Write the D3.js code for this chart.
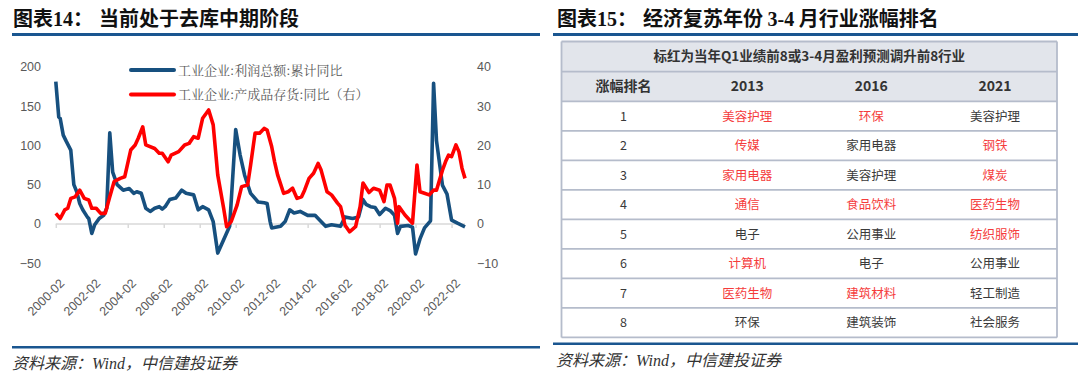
<!DOCTYPE html>
<html><head><meta charset="utf-8">
<script src="https://cdn.jsdelivr.net/npm/d3@7"></script>
<style>
html,body{margin:0;padding:0;background:#fff;}
svg{display:block;}
</style></head>
<body>
<svg id="c" width="1080" height="374"></svg>
<script>
// ---------- data ----------
const profitDates = ["2000-02","2000-04","2000-05","2000-07","2000-09","2000-12","2001-02","2001-04","2001-06","2001-08","2001-11","2001-12","2002-02","2002-04","2002-07","2002-10","2002-12","2003-02","2003-04","2003-07","2003-11","2004-03","2004-06","2004-08","2004-11","2005-02","2005-05","2005-08","2005-11","2006-01","2006-03","2006-06","2006-10","2007-02","2007-05","2007-10","2008-01","2008-04","2008-08","2008-11","2009-02","2009-06","2009-10","2010-02","2010-05","2010-08","2010-12","2011-05","2011-09","2011-11","2012-01","2012-02","2012-08","2012-11","2013-02","2013-05","2013-09","2014-02","2014-07","2014-10","2015-02","2015-06","2015-12","2016-03","2016-08","2016-12","2017-03","2017-05","2017-08","2017-11","2018-02","2018-06","2018-09","2018-12","2019-02","2019-04","2019-09","2019-12","2020-02","2020-05","2020-08","2020-12","2021-02","2021-04","2021-08","2021-11","2022-02","2022-06","2022-11"];
const profitValues = [181,136,134,113,105,94,50,41,26,18,9,7,-12,-1,7,11,20,116,66,50,43,45,39,41,39,20,16,20,22,19,22,31,33,43,39,37,18,22,18,3,-37,-20,-3,120,88,62,39,28,27,26,3,-5,-3,3,18,14,16,11,11,5,-3,-1,-3,9,7,9,31,25,22,21,12,20,17,11,-12,-3,-2,-4,-38,-19,-5,4,179,106,49,38,5,1,-3.6];

const inventoryDates = ["2000-02","2000-05","2000-08","2000-10","2000-12","2001-03","2001-06","2001-09","2001-12","2002-02","2002-05","2002-08","2002-11","2003-02","2003-05","2003-09","2003-12","2004-04","2004-07","2004-09","2004-12","2005-02","2005-08","2005-11","2006-01","2006-05","2006-07","2006-12","2007-04","2007-07","2007-10","2008-01","2008-04","2008-08","2008-11","2009-02","2009-06","2009-08","2009-11","2010-03","2010-06","2010-10","2010-12","2011-03","2011-06","2011-09","2011-11","2012-02","2012-04","2012-06","2012-10","2013-01","2013-04","2013-07","2013-10","2013-12","2014-03","2014-06","2014-09","2014-11","2015-03","2015-06","2015-10","2015-12","2016-03","2016-06","2016-10","2017-01","2017-03","2017-07","2017-10","2018-02","2018-05","2018-07","2018-09","2018-12","2019-02","2019-03","2019-07","2019-12","2020-03","2020-05","2020-08","2020-11","2021-02","2021-04","2021-08","2021-10","2021-12","2022-02","2022-05","2022-07","2022-09","2022-11"];
const inventoryValues = [2.7,1.4,3.6,4.0,6.5,6.9,8.6,6.5,6.1,4.0,4.0,2.7,2.7,6.9,10.8,11.6,12.0,18.8,20.1,21.8,24.7,20.1,19.2,18.0,18.0,15.8,17.5,18.4,20.1,20.5,22.2,21.8,26.9,29.0,25.2,12.5,4.0,-0.7,0.6,4.8,9.5,9.9,15.0,23.1,23.1,24.3,23.9,19.7,15.8,12.5,7.8,8.2,9.1,6.5,6.9,8.6,11.6,12.9,15.4,13.7,8.2,7.4,5.3,4.4,-0.3,-2.0,-0.7,4.4,10.4,8.0,9.1,8.6,5.7,9.9,9.9,6.5,0.2,4.4,2.3,0.2,15.0,8.2,7.8,7.4,8.6,8.6,13.7,15.8,17.5,17.1,20.1,18.4,14.2,11.6];

const xTickLabels = ["2000-02","2002-02","2004-02","2006-02","2008-02","2010-02","2012-02","2014-02","2016-02","2018-02","2020-02","2022-02"];
const leftTicks = [-50,0,50,100,150,200];
const rightTicks = [-10,0,10,20,30,40];
const seriesNames = ["工业企业:利润总额:累计同比","工业企业:产成品存货:同比（右）"];

const tableNote = "标红为当年Q1业绩前8或3-4月盈利预测调升前8行业";
const tableHeader = ["涨幅排名","2013","2016","2021"];
const ranks = ["1","2","3","4","5","6","7","8"];
const ind2013 = ["美容护理","传媒","家用电器","通信","电子","计算机","医药生物","环保"];
const red2013 = [1,1,1,1,0,1,1,0];
const ind2016 = ["环保","家用电器","美容护理","食品饮料","公用事业","电子","建筑材料","建筑装饰"];
const red2016 = [1,0,0,1,0,0,1,0];
const ind2021 = ["美容护理","钢铁","煤炭","医药生物","纺织服饰","公用事业","轻工制造","社会服务"];
const red2021 = [0,1,1,1,1,0,0,0];

// ---------- drawing ----------
const svg = d3.select("#c");
svg.append("rect").attr("width",1080).attr("height",374).attr("fill","#fff");
const parse = d3.timeParse("%Y-%m");
const BLUE = "#17507f", RED = "#ff0000", AXC = "#595959", BAR = "#1a5690";

// titles
const t1 = svg.append("text").attr("x",13).attr("y",26).attr("font-size",20).attr("font-weight","bold").attr("fill","#111")
    .attr("font-family","'Noto Sans CJK SC',sans-serif");
t1.append("tspan").text("图表");
t1.append("tspan").attr("font-family","'Liberation Serif',serif").text("14");
t1.append("tspan").text("：");
t1.append("tspan").attr("dx",6).text("当前处于去库中期阶段");
svg.append("rect").attr("x",12).attr("y",33).attr("width",528).attr("height",3).attr("fill",BAR);
const t2 = svg.append("text").attr("x",557).attr("y",26).attr("font-size",20).attr("font-weight","bold").attr("fill","#111")
    .attr("font-family","'Noto Sans CJK SC',sans-serif");
t2.append("tspan").text("图表");
t2.append("tspan").attr("font-family","'Liberation Serif',serif").text("15");
t2.append("tspan").text("：");
t2.append("tspan").attr("dx",6).text("经济复苏年份 ");
t2.append("tspan").attr("font-family","'Liberation Serif',serif").text("3-4");
t2.append("tspan").text(" 月行业涨幅排名");
svg.append("rect").attr("x",553).attr("y",33).attr("width",525).attr("height",3).attr("fill",BAR);

// footers
svg.append("rect").attr("x",12).attr("y",346).attr("width",528).attr("height",2.5).attr("fill",BAR);
svg.append("rect").attr("x",553).attr("y",342.5).attr("width",525).attr("height",2.5).attr("fill",BAR);
function footer(x,y){
  const f = svg.append("text").attr("x",x).attr("y",y).attr("font-size",16).attr("font-style","italic").attr("fill","#333")
    .attr("font-family","'Noto Sans CJK SC',sans-serif");
  f.append("tspan").text("资料来源：");
  f.append("tspan").attr("font-family","'Liberation Serif',serif").text("Wind");
  f.append("tspan").text("，中信建投证券");
}
footer(12,369);
footer(556,366);

// chart scales
const x = d3.scaleTime().domain([parse("2000-02"), parse("2022-11")]).range([55.8, 465]);
const yL = d3.scaleLinear().domain([-50,200]).range([263.3, 66.7]);
const yR = d3.scaleLinear().domain([-10,40]).range([263.3, 66.7]);

// y axes
const gL = svg.append("g").attr("transform","translate(41,0)")
  .call(d3.axisLeft(yL).tickValues(leftTicks).tickSize(0).tickPadding(0));
const gR = svg.append("g").attr("transform","translate(477,0)")
  .call(d3.axisRight(yR).tickValues(rightTicks).tickSize(0).tickPadding(0));
[gL,gR].forEach(g=>{
  g.select(".domain").remove();
  g.selectAll("text").attr("font-size",12.5).attr("fill",AXC).attr("font-family","'Liberation Sans',Arial,sans-serif");
});

// x axis at zero
const tickDates = xTickLabels.map(parse);
const gX = svg.append("g").attr("transform",`translate(0,${yL(0)})`)
  .call(d3.axisBottom(x).tickValues(tickDates).tickSize(4).tickFormat(""));
gX.select(".domain").attr("d",`M${x.range()[0]},0H${x.range()[1]}`).attr("stroke","#d9d9d9").attr("stroke-width",1.5);
gX.selectAll(".tick line").attr("stroke","#d9d9d9").attr("stroke-width",1.5);

// x labels at bottom
const gXL = svg.append("g").attr("transform",`translate(0,${yL(-50)+12})`)
  .call(d3.axisBottom(x).tickValues(tickDates).tickSize(0).tickFormat((d,i)=>xTickLabels[i]));
gXL.select(".domain").remove();
gXL.selectAll("text").attr("font-size",12.5).attr("fill",AXC).attr("font-family","'Liberation Sans',Arial,sans-serif")
  .attr("text-anchor","end").attr("dy","0.3em").attr("dx","0")
  .attr("transform","translate(4,4) rotate(-45)");

// lines
const profit = profitDates.map((d,i)=>({d:parse(d), v:profitValues[i]}));
const inv = inventoryDates.map((d,i)=>({d:parse(d), v:inventoryValues[i]}));
svg.append("path").datum(profit).attr("fill","none").attr("stroke",BLUE).attr("stroke-width",3.6).attr("stroke-linejoin","round")
  .attr("d", d3.line().x(p=>x(p.d)).y(p=>yL(p.v)));
svg.append("path").datum(inv).attr("fill","none").attr("stroke",RED).attr("stroke-width",3.6).attr("stroke-linejoin","round")
  .attr("d", d3.line().x(p=>x(p.d)).y(p=>yR(p.v)));

// legend
const legColors = [BLUE, RED];
const leg = svg.append("g").selectAll("g").data(seriesNames).join("g")
  .attr("transform",(d,i)=>`translate(131,${70+i*24.5})`);
leg.append("line").attr("x1",0).attr("x2",43).attr("stroke",(d,i)=>legColors[i]).attr("stroke-width",4).attr("stroke-linecap","round");
leg.append("text").attr("x",47).attr("dy","0.36em").attr("font-size",13).attr("fill",AXC)
  .attr("font-family","'Noto Serif CJK SC','Noto Sans CJK SC',serif").text(d=>d);

// ---------- table ----------
const tx0 = 561.5, tx1 = 1057, colW = (tx1-tx0)/4;
const rowsY = [41.5, 71.6, 101.4];
for(let i=1;i<=8;i++) rowsY.push(101.4 + i*29.5);
const T = svg.append("g");
T.append("rect").attr("x",tx0).attr("y",rowsY[0]).attr("width",tx1-tx0).attr("height",rowsY[2]-rowsY[0]).attr("fill","#e2e5eb");
T.selectAll("line.h").data(rowsY).join("line").attr("class","h")
  .attr("x1",tx0).attr("x2",tx1).attr("y1",d=>d).attr("y2",d=>d).attr("stroke","#b5bccb").attr("stroke-width",1.8);
T.append("line").attr("x1",tx0).attr("x2",tx0).attr("y1",rowsY[0]).attr("y2",rowsY[rowsY.length-1]).attr("stroke","#b5bccb").attr("stroke-width",1.8);
T.append("line").attr("x1",tx1).attr("x2",tx1).attr("y1",rowsY[0]).attr("y2",rowsY[rowsY.length-1]).attr("stroke","#b5bccb").attr("stroke-width",1.8);
const FF = "'Noto Sans CJK SC','Noto Sans',sans-serif";
T.append("text").attr("x",(tx0+tx1)/2).attr("y",(rowsY[0]+rowsY[1])/2).attr("dy","0.35em").attr("text-anchor","middle")
  .attr("font-size",13.5).attr("font-weight","bold").attr("fill","#333").attr("font-family",FF).text(tableNote);
T.selectAll("text.hd").data(tableHeader).join("text").attr("class","hd")
  .attr("x",(d,i)=>tx0+colW*(i+0.5)).attr("y",(rowsY[1]+rowsY[2])/2).attr("dy","0.35em").attr("text-anchor","middle")
  .attr("font-size",14).attr("font-weight","bold").attr("fill","#333").attr("font-family",FF).text(d=>d);
const cols = [
  {vals:ranks, red:ranks.map(()=>0)},
  {vals:ind2013, red:red2013},
  {vals:ind2016, red:red2016},
  {vals:ind2021, red:red2021}
];
cols.forEach((c,ci)=>{
  T.selectAll(`text.c${ci}`).data(c.vals).join("text").attr("class",`c${ci}`)
    .attr("x",tx0+colW*(ci+0.5)).attr("y",(d,i)=>(rowsY[i+2]+rowsY[i+3])/2).attr("dy","0.35em").attr("text-anchor","middle")
    .attr("font-size",12.5).attr("fill",(d,i)=>c.red[i]?"#f53c3c":"#3a3a3a").attr("font-family",FF).text(d=>d);
});
</script>
</body></html>
